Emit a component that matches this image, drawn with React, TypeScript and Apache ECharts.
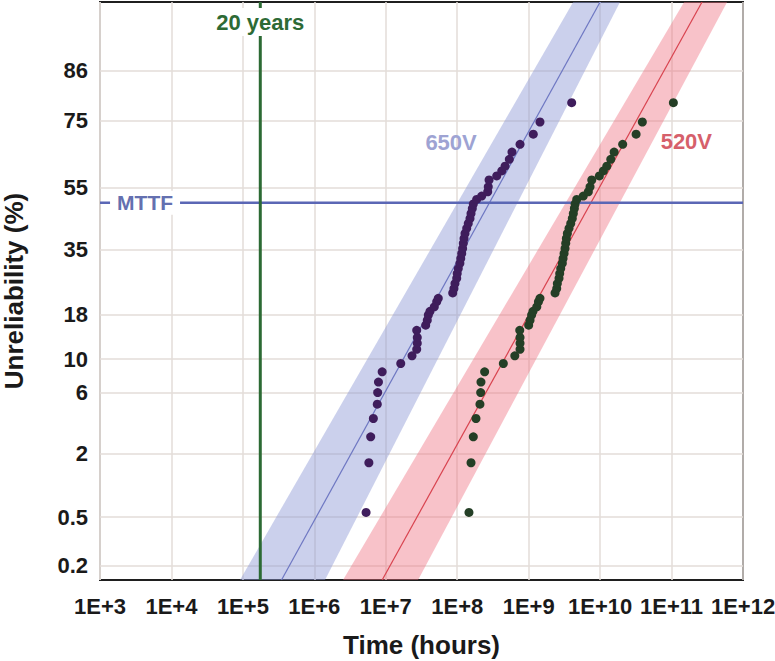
import { useEffect, useRef } from "react";
import * as echarts from "echarts";

// ---------- data ----------
const yTickLabels = ["0.2", "0.5", "2", "6", "10", "18", "35", "55", "75", "86"];
// unreliability (%) at which each labelled gridline sits
const yTickAtPct = [0.147, 0.5, 2, 6, 10, 18, 35, 55, 75, 86];
const yRangePct = [0.1, 95];
const xRange = [1e3, 1e12];

// unreliability (%) of the ranked failures (same ranks for both voltages)
const failurePct = [
  0.56, 1.66, 2.76, 3.86, 4.95, 6.0, 7.1, 8.3, 9.4, 10.5, 11.5, 12.5, 13.5, 14.8,
  15.8, 16.8, 17.9, 18.7, 19.7, 20.9, 21.7, 23.0, 24.1, 25.4, 26.8, 28.1, 29.5,
  31.0, 32.4, 33.9, 35.4, 37.0, 38.5, 40.1, 41.7, 43.3, 44.9, 46.5, 48.1, 49.6,
  51.1, 52.2, 53.6, 55.2, 57.4, 58.7, 60.3, 61.8, 63.9, 66.1, 68.4, 71.3, 74.6, 79.4,
];
const hours650 = [
  5.3e6, 5.8e6, 6.15e6, 6.7e6, 7.6e6, 7.7e6, 7.9e6, 8.9e6, 1.62e7, 2.33e7, 2.71e7,
  2.76e7, 2.76e7, 2.71e7, 3.62e7, 3.81e7, 3.94e7, 4.16e7, 4.78e7, 5.16e7, 5.43e7,
  8.65e7, 9.0e7, 9.3e7, 9.84e7, 1.0e8, 1.035e8, 1.09e8, 1.12e8, 1.156e8, 1.19e8,
  1.217e8, 1.245e8, 1.285e8, 1.358e8, 1.427e8, 1.51e8, 1.56e8, 1.626e8, 1.68e8,
  1.87e8, 2.2e8, 2.67e8, 2.72e8, 2.79e8, 3.57e8, 4.2e8, 4.67e8, 5.36e8, 5.84e8,
  7.57e8, 1.16e9, 1.44e9, 4.0e9,
];
const hours520 = [
  1.46e8, 1.56e8, 1.68e8, 1.83e8, 2.08e8, 2.13e8, 2.15e8, 2.42e8, 4.42e8, 6.4e8,
  7.57e8, 7.57e8, 7.57e8, 7.5e8, 1.0e9, 1.045e9, 1.1e9, 1.15e9, 1.3e9, 1.37e9,
  1.44e9, 2.34e9, 2.47e9, 2.52e9, 2.66e9, 2.72e9, 2.81e9, 2.96e9, 3.03e9, 3.13e9,
  3.23e9, 3.3e9, 3.37e9, 3.48e9, 3.67e9, 3.88e9, 4.08e9, 4.22e9, 4.36e9, 4.46e9,
  4.71e9, 5.81e9, 6.84e9, 7.23e9, 7.64e9, 9.75e9, 1.11e10, 1.24e10, 1.41e10,
  1.57e10, 2.07e10, 3.19e10, 3.9e10, 1.06e11,
];
// fitted lines [hours, %]
const fit650 = [[3.47e5, 0.1], [1.0e10, 95]];
const fit520 = [[8.9e6, 0.1], [2.67e11, 95]];
// confidence bands, polygon corners [hours, %]
const band650 = [[9.1e4, 0.1], [4.2e9, 95], [1.9e10, 95], [1.41e6, 0.1]];
const band520 = [[2.52e6, 0.1], [1.5e11, 95], [6.0e11, 95], [2.83e7, 0.1]];
const mttfPct = 50;
const twentyYearsHours = 175200;

// ---------- probability scale ----------
function probit(p: number): number {
  const a = [-39.69683028665376, 220.9460984245205, -275.9285104469687, 138.357751867269, -30.66479806614716, 2.506628277459239];
  const b = [-54.47609879822406, 161.5858368580409, -155.6989798598866, 66.80131188771972, -13.28068155288572];
  const c = [-0.007784894002430293, -0.3223964580411365, -2.400758277161838, -2.549732539343734, 4.374664141464968, 2.938163982698783];
  const d = [0.007784695709041462, 0.3224671290700398, 2.445134137142996, 3.754408661907416];
  const pl = 0.02425;
  let q: number, r: number;
  if (p < pl) {
    q = Math.sqrt(-2 * Math.log(p));
    return (((((c[0] * q + c[1]) * q + c[2]) * q + c[3]) * q + c[4]) * q + c[5]) / ((((d[0] * q + d[1]) * q + d[2]) * q + d[3]) * q + 1);
  }
  if (p <= 1 - pl) {
    q = p - 0.5;
    r = q * q;
    return ((((((a[0] * r + a[1]) * r + a[2]) * r + a[3]) * r + a[4]) * r + a[5]) * q) / (((((b[0] * r + b[1]) * r + b[2]) * r + b[3]) * r + b[4]) * r + 1);
  }
  q = Math.sqrt(-2 * Math.log(1 - p));
  return -(((((c[0] * q + c[1]) * q + c[2]) * q + c[3]) * q + c[4]) * q + c[5]) / ((((d[0] * q + d[1]) * q + d[2]) * q + d[3]) * q + 1);
}
const z = (pct: number) => probit(pct / 100);

const FONT = "'Liberation Sans', Arial, Helvetica, sans-serif";

export default function App() {
  const ref = useRef<HTMLDivElement>(null);
  useEffect(() => {
    if (!ref.current) return;
    const chart = echarts.init(ref.current, undefined, { renderer: "svg" });
    const yTicks = yTickAtPct.map(z);
    const bandSeries = (band: number[][], fill: string) => ({
      type: "custom",
      silent: true,
      z: 1,
      data: [[band[0][0], z(band[0][1])]],
      renderItem: (_p: any, api: any) => ({
        type: "polygon",
        shape: { points: band.map(([t, p]) => api.coord([t, z(p)])) },
        style: { fill },
      }),
    });
    const labelPoint = (coord: number[], text: string, color: string, size: number, bg: boolean, w: number, h: number) => ({
      coord,
      symbol: "rect",
      symbolSize: [w, h],
      itemStyle: { color: bg ? "#ffffff" : "rgba(0,0,0,0)" },
      label: {
        show: true,
        position: "inside",
        formatter: text,
        color,
        fontSize: size,
        fontWeight: "bold",
        fontFamily: FONT,
      },
    });
    chart.setOption({
      animation: false,
      textStyle: { fontFamily: FONT },
      grid: {
        left: 100,
        right: 32,
        top: 2,
        bottom: 81,
        show: true,
        borderColor: "#1f1f1f",
        borderWidth: 2,
        containLabel: false,
        outerBoundsMode: "none",
      },
      xAxis: {
        type: "log",
        logBase: 10,
        min: xRange[0],
        max: xRange[1],
        name: "Time (hours)",
        nameLocation: "middle",
        nameGap: 52,
        nameTextStyle: { fontSize: 26, fontWeight: "bold", color: "#1a1a1a", fontFamily: FONT },
        axisLine: { show: false },
        axisTick: { show: false },
        axisLabel: {
          margin: 15,
          fontSize: 22,
          fontWeight: "bold",
          color: "#1a1a1a",
          fontFamily: FONT,
          formatter: (v: number) => "1E+" + Math.round(Math.log10(v)),
        },
        splitLine: { show: true, lineStyle: { color: "#e3dcd8", width: 1.5 } },
      },
      yAxis: {
        type: "value",
        min: z(yRangePct[0]),
        max: z(yRangePct[1]),
        name: "Unreliability (%)",
        nameLocation: "middle",
        nameGap: 73,
        nameTextStyle: { fontSize: 26, fontWeight: "bold", color: "#1a1a1a", fontFamily: FONT },
        axisLine: { show: false },
        axisTick: { show: false, customValues: yTicks },
        axisLabel: {
          customValues: yTicks,
          margin: 12,
          fontSize: 22,
          fontWeight: "bold",
          color: "#1a1a1a",
          fontFamily: FONT,
          formatter: (v: number) => {
            const i = yTicks.findIndex((t) => Math.abs(t - v) < 1e-6);
            return i >= 0 ? yTickLabels[i] : "";
          },
        },
        splitLine: { show: true, lineStyle: { color: "#e3dcd8", width: 1.5 } },
      },
      series: [
        bandSeries(band650, "rgba(140,150,212,0.45)"),
        bandSeries(band520, "rgba(238,110,126,0.42)"),
        {
          type: "line",
          z: 2,
          symbol: "none",
          silent: true,
          data: fit650.map(([t, p]) => [t, z(p)]),
          lineStyle: { color: "#6e77c2", width: 1.2 },
        },
        {
          type: "line",
          z: 2,
          symbol: "none",
          silent: true,
          data: fit520.map(([t, p]) => [t, z(p)]),
          lineStyle: { color: "#d8434f", width: 1.2 },
        },
        {
          type: "line",
          z: 3,
          symbol: "none",
          silent: true,
          data: [[xRange[0], z(mttfPct)], [xRange[1], z(mttfPct)]],
          lineStyle: { color: "#5b67b5", width: 2.5 },
          markPoint: {
            silent: true,
            data: [labelPoint([4.27e3, z(mttfPct)], "MTTF", "#6470b0", 21, true, 70, 24)],
          },
        },
        {
          type: "line",
          z: 3,
          symbol: "none",
          silent: true,
          data: [[twentyYearsHours, z(yRangePct[0])], [twentyYearsHours, z(yRangePct[1])]],
          lineStyle: { color: "#2c6a34", width: 3 },
          markPoint: {
            silent: true,
            data: [labelPoint([twentyYearsHours, z(93.06)], "20 years", "#2d6a35", 22, true, 98, 28)],
          },
        },
        {
          type: "scatter",
          z: 4,
          symbolSize: 9,
          data: hours650.map((h, i) => [h, z(failurePct[i])]),
          itemStyle: { color: "#3f1d5c", opacity: 1 },
          markPoint: {
            silent: true,
            data: [labelPoint([8.2e7, z(69.0)], "650V", "#9ea3d3", 22, false, 1, 1)],
          },
        },
        {
          type: "scatter",
          z: 4,
          symbolSize: 9,
          data: hours520.map((h, i) => [h, z(failurePct[i])]),
          itemStyle: { color: "#243f26", opacity: 1 },
          markPoint: {
            silent: true,
            data: [labelPoint([1.61e11, z(69.1)], "520V", "#d6606b", 22, false, 1, 1)],
          },
        },
      ],
    });
    return () => chart.dispose();
  }, []);
  return (
    <div
      ref={ref}
      style={{ position: "fixed", left: 0, top: 0, width: 775, height: 661, background: "#ffffff" }}
    />
  );
}
